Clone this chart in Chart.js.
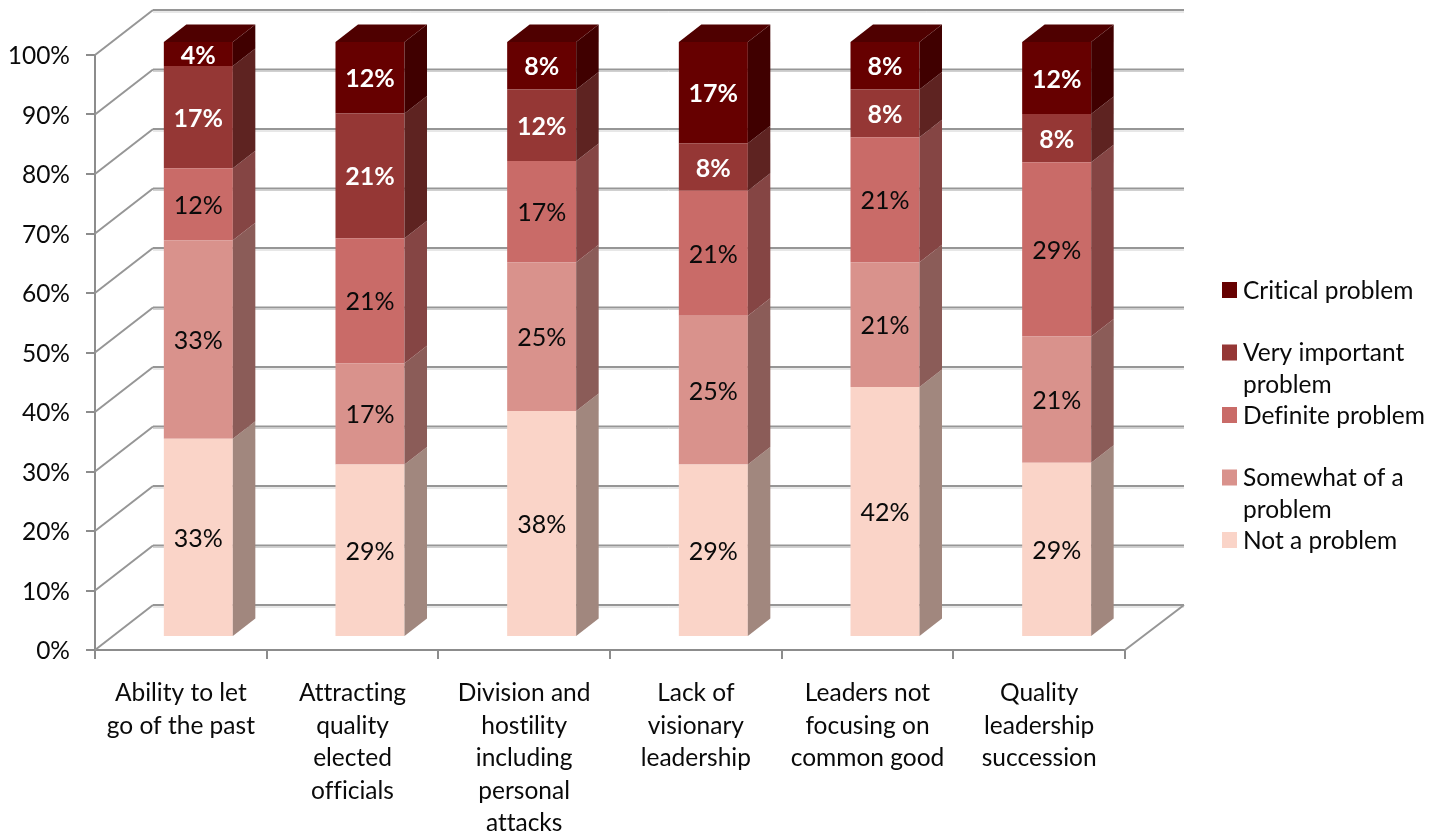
<!DOCTYPE html>
<html>
<head>
<meta charset="utf-8">
<title>Leadership problems</title>
<style>
    html, body { margin: 0; padding: 0; background: #fff; }
    canvas { display: block; }
</style>
<script src="https://cdn.jsdelivr.net/npm/chart.js@4/dist/chart.umd.min.js"></script>
</head>
<body>
<canvas id="problemsChart" width="1444" height="837"></canvas>
<script>
const categories = [
    ['Ability to let', 'go of the past'],
    ['Attracting', 'quality', 'elected', 'officials'],
    ['Division and', 'hostility', 'including', 'personal', 'attacks'],
    ['Lack of', 'visionary', 'leadership'],
    ['Leaders not', 'focusing on', 'common good'],
    ['Quality', 'leadership', 'succession']
];

// percentages as printed on the bars
const notAProblem = [33, 29, 38, 29, 42, 29];
const somewhatProblem = [33, 17, 25, 25, 21, 21];
const definiteProblem = [12, 21, 17, 21, 21, 29];
const veryImportantProblem = [17, 21, 12, 8, 8, 8];
const criticalProblem = [4, 12, 8, 17, 8, 12];

const seriesNames = ['Not a problem', 'Somewhat of a problem', 'Definite problem', 'Very important problem', 'Critical problem'];
const seriesValues = [notAProblem, somewhatProblem, definiteProblem, veryImportantProblem, criticalProblem];
const frontColors = ['#fad4c8', '#d9928c', '#c96b68', '#953735', '#660000'];
const sideColors = ['#a1877e', '#8b5c58', '#854544', '#5e2321', '#400000'];
const topColor = '#4f0000';
const labelColors = ['#0a0a0a', '#0a0a0a', '#0a0a0a', '#fff', '#fff'];

// legend rows, top to bottom, wrapped like the picture
const legendRows = [
    ['Critical problem'],
    ['Very important', 'problem'],
    ['Definite problem'],
    ['Somewhat of a', 'problem'],
    ['Not a problem']
];

const fontName = 'Lato, "Open Sans", sans-serif';
const axisGrey = '#8c8c8c';

// the chart is a 100% stack, so each column is scaled by its own total
function shareOf(values, index) {
    let total = 0;
    seriesValues.forEach(s => { total += s[index]; });
    return values[index] / total * 100;
}

const box3d = {
    id: 'box3d',
    beforeDraw(chart) {
        // no ti/tt ligatures in the reference text
        chart.ctx.textRendering = 'optimizeSpeed';
    },
    beforeDatasetsDraw(chart) {
        const ctx = chart.ctx;
        const yScale = chart.scales.y;
        const area = chart.chartArea;
        const wallX = 58, wallY = 45;

        ctx.save();
        yScale.ticks.forEach(tick => {
            const y = yScale.getPixelForValue(tick.value);
            // back wall line with its soft lower edge
            ctx.strokeStyle = '#d0d0d0';
            ctx.lineWidth = 1;
            ctx.beginPath();
            ctx.moveTo(area.left + wallX, y - wallY + 2);
            ctx.lineTo(area.right + wallX + 1, y - wallY + 2);
            ctx.stroke();
            ctx.strokeStyle = '#969696';
            ctx.lineWidth = 2;
            ctx.beginPath();
            ctx.moveTo(area.left + wallX, y - wallY);
            ctx.lineTo(area.right + wallX + 1, y - wallY);
            ctx.stroke();
            // side wall diagonal
            ctx.strokeStyle = '#969696';
            ctx.lineWidth = 2;
            ctx.beginPath();
            ctx.moveTo(area.left, y);
            ctx.lineTo(area.left + wallX, y - wallY);
            ctx.stroke();
        });
        // floor edge on the right
        const floorY = yScale.getPixelForValue(0);
        ctx.beginPath();
        ctx.moveTo(area.right, floorY);
        ctx.lineTo(area.right + wallX + 1, floorY - wallY);
        ctx.stroke();
        ctx.restore();

        ctx.save();
        ctx.translate(17.5, -13);
    },
    afterDatasetsDraw(chart) {
        const ctx = chart.ctx;
        const depthX = 22.5, depthY = 17.5;

        chart.data.datasets.forEach((dataset, d) => {
            chart.getDatasetMeta(d).data.forEach(bar => {
                const left = bar.x - bar.width / 2;
                const right = bar.x + bar.width / 2;
                ctx.fillStyle = sideColors[d];
                ctx.beginPath();
                ctx.moveTo(right, bar.base);
                ctx.lineTo(right, bar.y);
                ctx.lineTo(right + depthX, bar.y - depthY);
                ctx.lineTo(right + depthX, bar.base - depthY);
                ctx.closePath();
                ctx.fill();
                if (d === chart.data.datasets.length - 1) {
                    ctx.fillStyle = topColor;
                    ctx.beginPath();
                    ctx.moveTo(left, bar.y);
                    ctx.lineTo(left + depthX, bar.y - depthY);
                    ctx.lineTo(right + depthX, bar.y - depthY);
                    ctx.lineTo(right, bar.y);
                    ctx.closePath();
                    ctx.fill();
                }
            });
        });

        // value labels on the front faces
        ctx.textAlign = 'center';
        ctx.textBaseline = 'middle';
        chart.data.datasets.forEach((dataset, d) => {
            ctx.font = (d > 2 ? 'bold ' : '') + '25px ' + fontName;
            ctx.fillStyle = labelColors[d];
            chart.getDatasetMeta(d).data.forEach((bar, i) => {
                ctx.fillText(seriesValues[d][i] + '%', bar.x, (bar.y + bar.base) / 2 + 1.5);
            });
        });
        ctx.restore();

        // legend
        ctx.save();
        ctx.font = '24.5px ' + fontName;
        ctx.textAlign = 'left';
        ctx.textBaseline = 'middle';
        legendRows.forEach((lines, r) => {
            const rowY = 290 + r * 62.5;
            ctx.fillStyle = frontColors[frontColors.length - 1 - r];
            ctx.fillRect(1222, rowY - 8, 15, 16);
            ctx.fillStyle = '#0a0a0a';
            lines.forEach((line, l) => {
                ctx.fillText(line, 1243, rowY + 1 + l * 31.5);
            });
        });
        ctx.restore();
    }
};

new Chart(document.getElementById('problemsChart'), {
    type: 'bar',
    data: {
        labels: categories,
        datasets: seriesNames.map((name, d) => ({
            label: name,
            data: categories.map((c, i) => shareOf(seriesValues[d], i)),
            backgroundColor: frontColors[d],
            borderWidth: 0,
            barPercentage: 1,
            categoryPercentage: 0.402
        }))
    },
    options: {
        responsive: false,
        animation: false,
        layout: { padding: { top: 55, right: 319, left: 0, bottom: 0 } },
        plugins: { legend: { display: false }, tooltip: { enabled: false } },
        scales: {
            x: {
                stacked: true,
                afterFit(scale) { scale.height = 187; },
                border: { color: axisGrey, width: 2 },
                grid: { drawOnChartArea: false, color: axisGrey, lineWidth: 2, tickLength: 9 },
                ticks: {
                    color: '#0a0a0a',
                    autoSkip: false,
                    maxRotation: 0,
                    minRotation: 0,
                    padding: 18,
                    font: { family: fontName, size: 24.5, lineHeight: '32.5px' }
                }
            },
            y: {
                stacked: true,
                min: 0,
                max: 100,
                afterFit(scale) { scale.width = 95; },
                border: { color: axisGrey, width: 2 },
                grid: { drawOnChartArea: false, color: axisGrey, lineWidth: 2, tickLength: 9 },
                ticks: {
                    stepSize: 10,
                    color: '#0a0a0a',
                    padding: 16,
                    labelOffset: 1.5,
                    font: { family: fontName, size: 24.5 },
                    callback: value => value + '%'
                }
            }
        }
    },
    plugins: [box3d]
});
</script>
</body>
</html>
